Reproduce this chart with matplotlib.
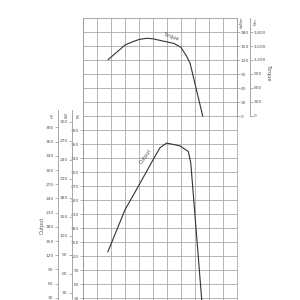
import matplotlib
matplotlib.use("Agg")
import matplotlib.pyplot as plt
from matplotlib.ticker import MultipleLocator, FixedLocator, FuncFormatter

# Daten
rpm_torque = [960, 1200, 1300, 1400, 1510, 1600, 1700, 1900, 2000, 2080, 2130, 2310]
torque_danm = [121, 152, 158.5, 164, 166.5, 165.5, 162, 155.5, 147, 128, 113, 0]

rpm_power = [955, 1200, 1400, 1600, 1700, 1795, 1985, 2105, 2140, 2310]
power_ps = [129, 219, 272, 326, 352, 362, 356, 344, 319, 0]

ps_ticks = list(range(30, 391, 30))
hp_ticks = list(range(30, 391, 30))
kw_ticks = list(range(30, 301, 30))
danm_ticks = list(range(0, 181, 30))
nm_ticks = list(range(0, 1801, 300))

PS_TO_HP = 1 / 1.0139
PS_TO_KW = 0.7355
TORQUE_OFFSET = 420  # 0 daNm liegt auf der Linie 420 PS

grid_c = "#a8a8a8"
line_c = "#333333"
txt_c = "#555555"
fs = 3.2
px = 0.72  # 1 px in pt bei dpi 100

fig = plt.figure(figsize=(3, 3), dpi=100)
top = 630
bottom = top - 282 * 30 / 14
ax = fig.add_axes([83 / 300, 0, 154 / 300, 282 / 300])
ax.set_xlim(600, 2800)
ax.set_ylim(bottom, top)
ax.set_xticks(range(600, 2801, 200))
ax.tick_params(axis="x", length=0, labelbottom=False)
ax.yaxis.set_major_locator(FixedLocator(ps_ticks))
ax.yaxis.set_minor_locator(MultipleLocator(30))
ax.tick_params(axis="y", which="major", length=2, width=0.4, pad=0.8,
               labelsize=fs, labelcolor=txt_c, color="#777777")
ax.tick_params(axis="y", which="minor", length=0)
ax.grid(True, which="both", color=grid_c, linewidth=0.6)
for s in ax.spines.values():
    s.set_color(grid_c)
    s.set_linewidth(0.6)
ax.spines["left"].set_color("#999999")

# Leistung
ax.plot(rpm_power, power_ps, color=line_c, linewidth=0.8)
ax.text(1500, 334, "Output", rotation=55, fontsize=3.6, color=txt_c,
        ha="center", va="center")

# Drehmoment
axt = ax.twinx()
axt.set_ylim(bottom - TORQUE_OFFSET, top - TORQUE_OFFSET)
axt.set_yticks(danm_ticks)
axt.tick_params(axis="y", length=2, width=0.4, pad=0.8, labelsize=fs,
                labelcolor=txt_c, color="#777777")
for k, s in axt.spines.items():
    s.set_visible(k == "right")
axt.spines["right"].set_bounds(0, top - TORQUE_OFFSET)
axt.spines["right"].set_color("#999999")
axt.spines["right"].set_linewidth(0.6)
axt.plot(rpm_torque, torque_danm, color=line_c, linewidth=0.8)
axt.text(1850, 170, "Torque", rotation=-20, fontsize=3.6, color=txt_c,
         ha="center", va="center")

# Nm Achse
axn = ax.twinx()
axn.set_ylim((bottom - TORQUE_OFFSET) * 10, (top - TORQUE_OFFSET) * 10)
axn.set_yticks(nm_ticks)
axn.yaxis.set_major_formatter(FuncFormatter(lambda v, p: f"{int(v):,}"))
axn.tick_params(axis="y", length=2, width=0.4, pad=0.8, labelsize=fs,
                labelcolor=txt_c, color="#777777")
for k, s in axn.spines.items():
    s.set_visible(k == "right")
axn.spines["right"].set_position(("outward", 13 * px))
axn.spines["right"].set_bounds(0, (top - TORQUE_OFFSET) * 10)
axn.spines["right"].set_color("#999999")
axn.spines["right"].set_linewidth(0.6)

# HP und kW Achsen links
def left_axis(factor, ticks, offset_px, upper):
    a = ax.twinx()
    a.set_ylim(bottom * factor, top * factor)
    a.yaxis.tick_left()
    a.set_yticks(ticks)
    a.tick_params(axis="y", length=2, width=0.4, pad=0.8, labelsize=fs,
                  labelcolor=txt_c, color="#777777")
    for k, s in a.spines.items():
        s.set_visible(k == "left")
    a.spines["left"].set_position(("outward", offset_px * px))
    a.spines["left"].set_bounds(0, upper * factor)
    a.spines["left"].set_color("#999999")
    a.spines["left"].set_linewidth(0.6)
    return a

axh = left_axis(PS_TO_HP, hp_ticks, 25.5, 432)
axk = left_axis(PS_TO_KW, kw_ticks, 11.5, 432)

# Einheiten
for x, y, t in [(53, 115, "HP"), (67, 115, "kW"), (79, 116, "PS"),
                (242, 22, "daNm"), (256, 22, "Nm")]:
    fig.text(x / 300, 1 - y / 300, t, rotation=90, fontsize=2.8,
             color=txt_c, ha="center", va="center")

fig.text(42 / 300, 1 - 225 / 300, "Output", rotation=90, fontsize=3.6,
         color=txt_c, ha="center", va="center")
fig.text(269 / 300, 1 - 72 / 300, "Torque", rotation=270, fontsize=3.6,
         color=txt_c, ha="center", va="center")

fig.savefig("out.png", dpi=100)
